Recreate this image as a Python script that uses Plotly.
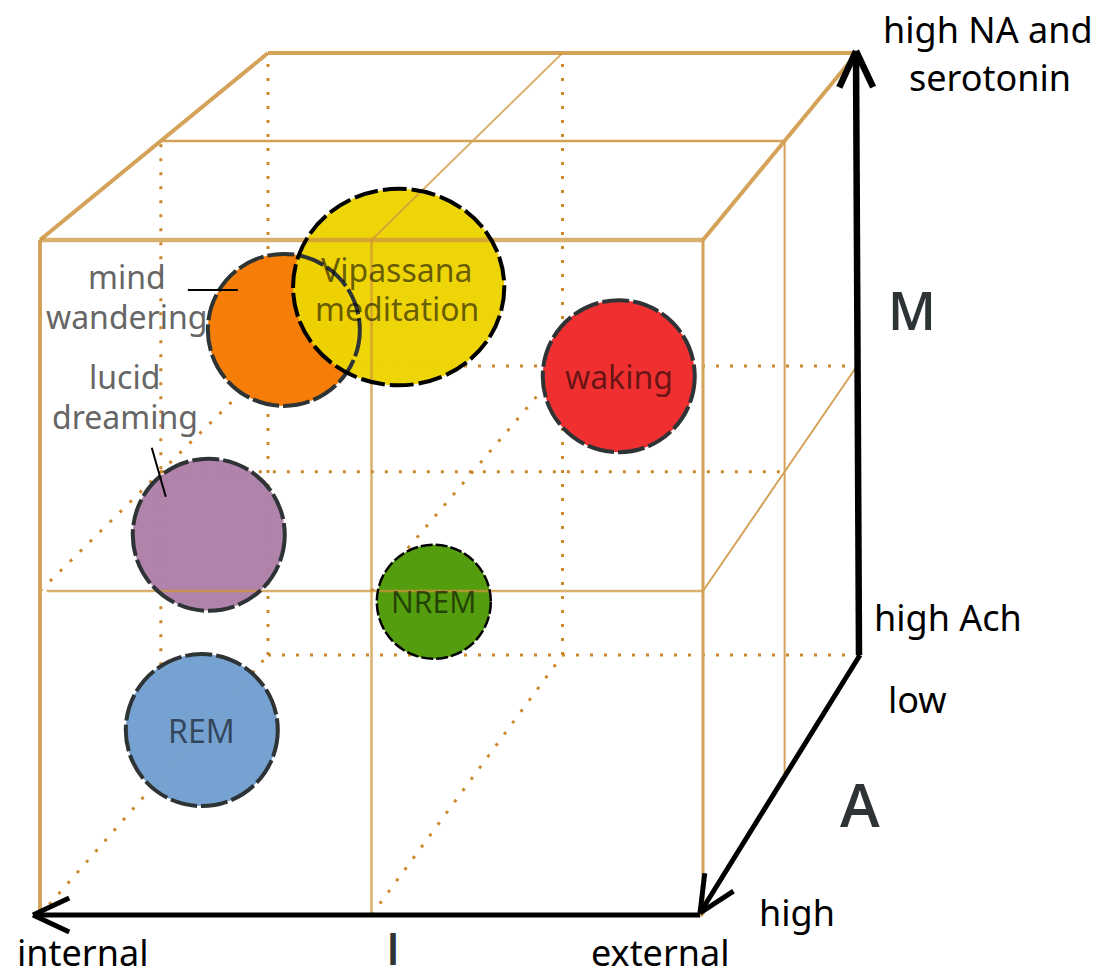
import math
import plotly.graph_objects as go

W, H = 1101, 980

# ---------------- data: AIM state space ----------------
# I: 0 = internal ... 1 = external
# A: 0 = low ... 1 = high (front of cube)
# M: 0 = high Ach ... 1 = high NA and serotonin
state_names = ["mind wandering", "Vipassana meditation", "waking",
               "lucid dreaming", "NREM", "REM"]
state_I = [0.241, 0.453, 0.848, 0.190, 0.447, 0.212]
state_A = [0.60, 0.70, 0.90, 0.80, 0.50, 0.90]
state_M = [0.745, 0.842, 0.768, 0.497, 0.287, 0.238]
state_size = [1.0, 1.39, 1.0, 1.0, 0.75, 1.0]

# grid levels of the cube (edges and mid planes)
I_levels = [0.0, 0.5, 1.0]
A_levels = [0.0, 0.47, 1.0]
M_levels = [0.0, 0.48, 1.0]

axis_labels = ["I", "A", "M"]

# ---------------- styles / layout ----------------
state_colors = ["#F57900", "#EDD400", "#EF2929", "#AD7FA8", "#4E9A06", "#729FCF"]
state_border = ["#2e3436", "#000000", "#2e3436", "#2e3436", "#000000", "#2e3436"]
state_bw = [4, 4, 4, 4, 2.5, 4]
state_dash = ["27px,4px", "24px,5px", "27px,4px", "27px,4px", "12px,3px", "27px,4px"]
state_yscale = [1.0, 0.93, 1.0, 1.0, 1.0, 1.0]
state_text_inside = [False, True, True, False, True, True]
state_font = [32, 32, 32, 32, 30, 32]
BASE_R = 76

FRONT = dict(l=40, r=703, b=915, t=240)
BACK = dict(l=268, r=857, b=655, t=53)

SOLID = "rgb(212,162,88)"
SOLID_T = "rgba(205,150,60,0.75)"
DOT = "rgb(204,136,44)"
FONT = "Noto Sans"
LETTER_FONT = "Open Sans"
INNER_TXT = "rgba(0,0,0,0.58)"


def proj(i, a, m):
    d = 1.0 - a
    fx = FRONT["l"] + (FRONT["r"] - FRONT["l"]) * i
    bx = BACK["l"] + (BACK["r"] - BACK["l"]) * i
    fy = FRONT["b"] + (FRONT["t"] - FRONT["b"]) * m
    by = BACK["b"] + (BACK["t"] - BACK["b"]) * m
    return ((1 - d) * fx + d * bx, (1 - d) * fy + d * by)


shapes = []


def seg(p0, p1, color, width, dash="solid"):
    shapes.append(dict(type="line", xref="x", yref="y",
                       x0=p0[0], y0=p0[1], x1=p1[0], y1=p1[1],
                       line=dict(color=color, width=width, dash=dash), layer="above"))


i0, im, i1 = I_levels
a0, am, a1 = A_levels
m0, mm, m1 = M_levels
DOTDASH = "3px,11px"

# ---- hidden (dotted) lines ----
seg(proj(i0, a0, m0), proj(i0, a0, m1), DOT, 3, DOTDASH)      # back left edge
seg(proj(i0, a0, m0), proj(i1, a0, m0), DOT, 3, DOTDASH)      # back bottom edge
seg(proj(im, a0, m0), proj(im, a0, m1), DOT, 3, DOTDASH)      # back mid vertical
seg(proj(i0, a0, mm), proj(i1, a0, mm), DOT, 3, DOTDASH)      # back mid horizontal
seg(proj(i0, a1, m0), proj(i0, a0, m0), DOT, 3, DOTDASH)      # left bottom edge
seg(proj(i0, a1, mm), proj(i0, a0, mm), DOT, 3, DOTDASH)      # left mid-height
seg(proj(i0, am, m0), proj(i0, am, m1), DOT, 3, DOTDASH)      # left mid-depth
seg(proj(im, a1, m0), proj(im, a0, m0), DOT, 3, DOTDASH)      # bottom mid
seg(proj(im, a1, mm), proj(im, a0, mm), DOT, 3, DOTDASH)      # interior I-mid / M-mid
seg(proj(i0, am, mm), proj(i1, am, mm), DOT, 3, DOTDASH)      # interior A-mid / M-mid

# ---- state fills ----
centers = [proj(i, a, m) for i, a, m in zip(state_I, state_A, state_M)]
radii = [BASE_R * s for s in state_size]
for (cx, cy), r, ys, col in zip(centers, radii, state_yscale, state_colors):
    shapes.append(dict(type="circle", xref="x", yref="y",
                       x0=cx - r, x1=cx + r, y0=cy - r * ys, y1=cy + r * ys,
                       fillcolor=col, opacity=0.97, line=dict(width=0), layer="above"))

# ---- visible (solid) cube lines ----
# top face outline
seg(proj(i0, a1, m1), proj(i0, a0, m1), SOLID, 4)
seg(proj(i0, a0, m1), proj(i1, a0, m1), SOLID, 4)
seg(proj(i1, a0, m1), proj(i1, a1, m1), SOLID, 4)
# front face outline
seg(proj(i0, a1, m1), proj(i1, a1, m1), SOLID_T, 4.5)
seg(proj(i0, a1, m1), proj(i0, a1, m0), SOLID, 4)
seg(proj(i1, a1, m1), proj(i1, a1, m0), SOLID, 3)
seg(proj(i0, a1, m0), proj(i1, a1, m0), SOLID, 3)
# top face grid
seg(proj(im, a1, m1), proj(im, a0, m1), SOLID_T, 2)
seg(proj(i0, am, m1), proj(i1, am, m1), SOLID, 2.5)
# front face grid
seg(proj(im, a1, m1), proj(im, a1, m0), SOLID_T, 2.5)
seg(proj(i0 + 0.01, a1, mm), proj(i1, a1, mm), SOLID_T, 2.5)
# right face grid
seg(proj(i1, am, m1), proj(i1, am, m0), SOLID, 2)
seg(proj(i1, a1, mm), proj(i1, a0, mm), SOLID, 2)

# ---- state borders ----
for (cx, cy), r, ys, bc, bw, dsh in zip(centers, radii, state_yscale, state_border,
                                         state_bw, state_dash):
    shapes.append(dict(type="circle", xref="x", yref="y",
                       x0=cx - r, x1=cx + r, y0=cy - r * ys, y1=cy + r * ys,
                       line=dict(color=bc, width=bw, dash=dsh), layer="above"))

# ---- label pointer lines ----
mw = centers[state_names.index("mind wandering")]
seg((mw[0] - 96, mw[1] - 40), (mw[0] - 46, mw[1] - 40), "black", 2)
ld = centers[state_names.index("lucid dreaming")]
seg((ld[0] - 57, ld[1] - 87), (ld[0] - 43, ld[1] - 38), "black", 2)


# ---- axes arrows ----
def arrow(p0, p1, width, head=40, ang=25):
    seg(p0, p1, "black", width)
    dx, dy = p0[0] - p1[0], p0[1] - p1[1]
    L = math.hypot(dx, dy)
    ux, uy = dx / L, dy / L
    for s in (-1, 1):
        t = math.radians(ang * s)
        vx = ux * math.cos(t) - uy * math.sin(t)
        vy = ux * math.sin(t) + uy * math.cos(t)
        seg(p1, (p1[0] + head * vx, p1[1] + head * vy), "black", width)


origin = proj(i1, a0, m0)
arrow((origin[0] + 2, origin[1]), (origin[0] - 1, proj(i1, a0, m1)[1] - 2), 6.5)
a_end = proj(i1, a1, m0)
arrow((origin[0] + 3, origin[1]), (a_end[0] - 3, a_end[1] - 2), 5)
i_end = proj(i0, a1, m0)
arrow((a_end[0] - 3, a_end[1]), (i_end[0] - 7, i_end[1]), 5)

# ---------------- annotations ----------------
ann = []


def txt(x, y, s, size, color="black", weight="normal", family=FONT, yanchor="middle"):
    ann.append(dict(x=x, y=y, xref="x", yref="y", text=s, showarrow=False,
                    xanchor="center", yanchor=yanchor,
                    font=dict(family=family, size=size, color=color, weight=weight)))


# axis end labels
txt(988, 29, "high NA and", 36)
txt(990, 77, "serotonin", 36)
txt(948, 617, "high Ach", 36)
txt(917, 699, "low", 36)
txt(797, 912, "high", 36)
txt(660, 952, "external", 36)
txt(82, 952, "internal", 36)
# axis letters
txt(912, 309, axis_labels[2], 52, "#2e3436", 600, LETTER_FONT)
txt(860, 804, axis_labels[1], 60, "#2e3436", 600, LETTER_FONT)
txt(393, 980, axis_labels[0], 46, "#2e3436", 600, LETTER_FONT, "bottom")

# state labels
for name, (cx, cy), inside, fs in zip(state_names, centers, state_text_inside, state_font):
    if inside:
        words = name.split(" ")
        if len(words) == 2:
            txt(cx - 2, cy - 18, words[0], fs, INNER_TXT)
            txt(cx - 2, cy + 21, words[1], fs, INNER_TXT)
        else:
            txt(cx, cy, name, fs, INNER_TXT)

mwx, mwy = mw
txt(mwx - 157, mwy - 53, "mind", 32, "#666666")
txt(mwx - 157, mwy - 13, "wandering", 32, "#666666")
txt(ld[0] - 84, ld[1] - 158, "lucid", 32, "#666666")
txt(ld[0] - 84, ld[1] - 118, "dreaming", 32, "#666666")

fig = go.Figure()
fig.add_trace(go.Scatter(x=[0, W], y=[0, H], mode="markers",
                         marker=dict(opacity=0), hoverinfo="skip", showlegend=False))
fig.update_layout(
    width=W, height=H, margin=dict(l=0, r=0, t=0, b=0),
    paper_bgcolor="white", plot_bgcolor="white",
    xaxis=dict(range=[0, W], visible=False, fixedrange=True),
    yaxis=dict(range=[H, 0], visible=False, fixedrange=True),
    shapes=shapes, annotations=ann, showlegend=False,
)

fig.write_html("out.html", config={"displayModeBar": False},
               post_script="document.body.style.margin='0';document.body.style.overflow='hidden';")
